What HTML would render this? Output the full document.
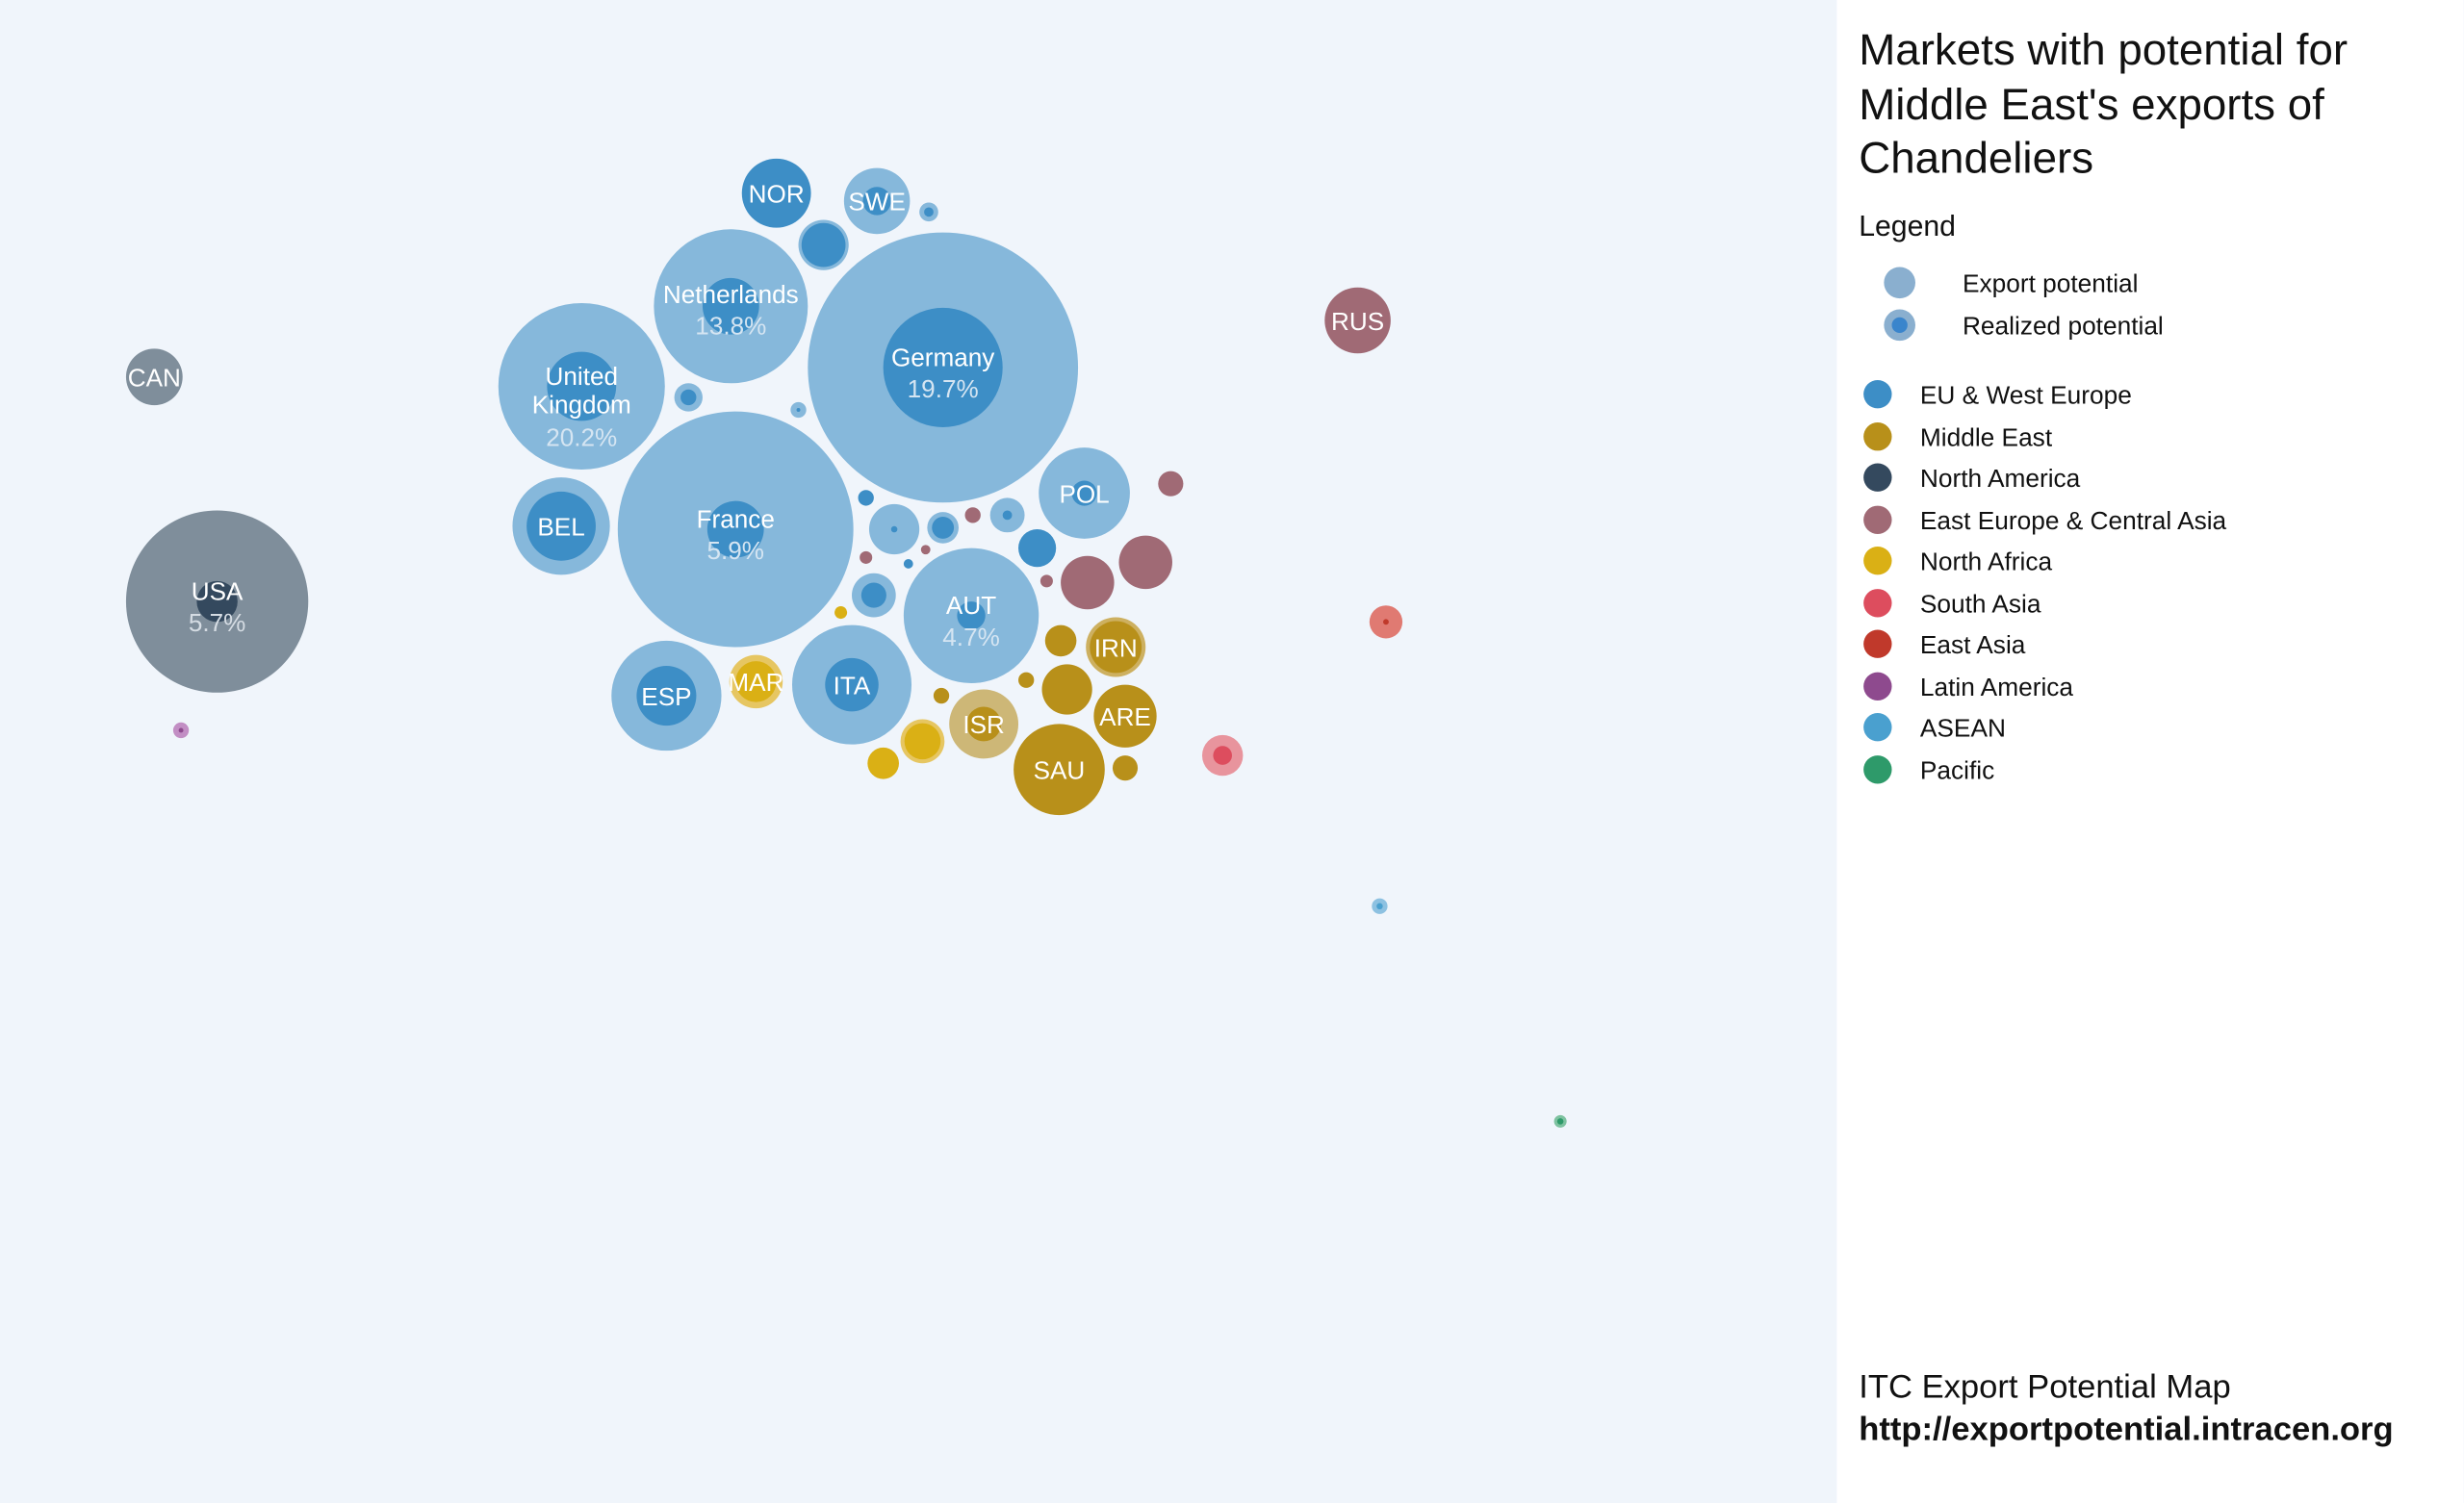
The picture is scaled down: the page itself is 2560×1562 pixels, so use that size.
<!DOCTYPE html>
<html><head><meta charset="utf-8"><style>
html,body{margin:0;padding:0;background:#f0f5fb}
svg{display:block}
text{font-family:"Liberation Sans",sans-serif}
</style></head><body>
<svg width="2560" height="1562" viewBox="0 0 1568 957" xmlns="http://www.w3.org/2000/svg">
<rect x="0" y="0" width="1568" height="957" fill="#f0f5fb"/>
<rect x="1169" y="0" width="399" height="957" fill="#ffffff"/>
<g>
<circle cx="494" cy="123" r="22" fill="#3d8ec6"/>
<circle cx="558" cy="128" r="21" fill="#86b8db"/><circle cx="558" cy="128" r="9" fill="#3d8ec6"/>
<circle cx="591" cy="135" r="6" fill="#86b8db"/><circle cx="591" cy="135" r="3" fill="#3d8ec6"/>
<circle cx="524" cy="156" r="16" fill="#86b8db"/><circle cx="524" cy="156" r="14" fill="#3d8ec6"/>
<circle cx="465" cy="195" r="49" fill="#86b8db"/><circle cx="465" cy="195" r="18" fill="#3d8ec6"/>
<circle cx="600" cy="234" r="86" fill="#86b8db"/><circle cx="600" cy="234" r="38" fill="#3d8ec6"/>
<circle cx="370" cy="246" r="53" fill="#86b8db"/><circle cx="370" cy="246" r="22" fill="#3d8ec6"/>
<circle cx="438" cy="253" r="9" fill="#86b8db"/><circle cx="438" cy="253" r="5" fill="#3d8ec6"/>
<circle cx="508" cy="261" r="5" fill="#86b8db"/><circle cx="508" cy="261" r="1.2" fill="#3d8ec6"/>
<circle cx="468" cy="337" r="75" fill="#86b8db"/><circle cx="468" cy="337" r="18" fill="#3d8ec6"/>
<circle cx="357" cy="335" r="31" fill="#86b8db"/><circle cx="357" cy="335" r="22" fill="#3d8ec6"/>
<circle cx="690" cy="314" r="29" fill="#86b8db"/><circle cx="690" cy="314" r="8" fill="#3d8ec6"/>
<circle cx="551" cy="317" r="5" fill="#3d8ec6"/>
<circle cx="569" cy="337" r="16" fill="#86b8db"/><circle cx="569" cy="337" r="2" fill="#3d8ec6"/>
<circle cx="600" cy="336" r="10" fill="#86b8db"/><circle cx="600" cy="336" r="7" fill="#3d8ec6"/>
<circle cx="641" cy="328" r="11" fill="#86b8db"/><circle cx="641" cy="328" r="3" fill="#3d8ec6"/>
<circle cx="660" cy="349" r="12" fill="#3d8ec6"/>
<circle cx="578" cy="359" r="3" fill="#3d8ec6"/>
<circle cx="556" cy="379" r="14" fill="#86b8db"/><circle cx="556" cy="379" r="8" fill="#3d8ec6"/>
<circle cx="618" cy="392" r="43" fill="#86b8db"/><circle cx="618" cy="392" r="9" fill="#3d8ec6"/>
<circle cx="542" cy="436" r="38" fill="#86b8db"/><circle cx="542" cy="436" r="17" fill="#3d8ec6"/>
<circle cx="424" cy="443" r="35" fill="#86b8db"/><circle cx="424" cy="443" r="19" fill="#3d8ec6"/>
<circle cx="864" cy="204" r="21" fill="#a06a75"/>
<circle cx="745" cy="308" r="8" fill="#a06a75"/>
<circle cx="729" cy="358" r="17" fill="#a06a75"/>
<circle cx="692" cy="371" r="17" fill="#a06a75"/>
<circle cx="666" cy="370" r="4" fill="#a06a75"/>
<circle cx="619" cy="328" r="5" fill="#a06a75"/>
<circle cx="551" cy="355" r="4" fill="#a06a75"/>
<circle cx="589" cy="350" r="3" fill="#a06a75"/>
<circle cx="710" cy="412" r="19" fill="#cdb060"/><circle cx="710" cy="412" r="16.5" fill="#b8901a"/>
<circle cx="675" cy="408" r="10" fill="#b8901a"/>
<circle cx="679" cy="439" r="16" fill="#b8901a"/>
<circle cx="653" cy="433" r="5" fill="#b8901a"/>
<circle cx="599" cy="443" r="5" fill="#b8901a"/>
<circle cx="716" cy="456" r="20" fill="#b8901a"/>
<circle cx="626" cy="461" r="22" fill="#cdb777"/><circle cx="626" cy="461" r="11" fill="#b8901a"/>
<circle cx="674" cy="490" r="29" fill="#b8901a"/>
<circle cx="716" cy="489" r="8" fill="#b8901a"/>
<circle cx="481" cy="434" r="17" fill="#e6c662"/><circle cx="481" cy="434" r="13" fill="#dab015"/>
<circle cx="587" cy="472" r="14" fill="#e6c662"/><circle cx="587" cy="472" r="11.5" fill="#dab015"/>
<circle cx="562" cy="486" r="10" fill="#dab015"/>
<circle cx="535" cy="390" r="4" fill="#dab015"/>
<circle cx="138" cy="383" r="58" fill="#7f8e9b"/><circle cx="138" cy="383" r="13" fill="#34495e"/>
<circle cx="98" cy="240" r="18" fill="#7f8e9b"/>
<circle cx="115" cy="465" r="5" fill="#c28ec4"/><circle cx="115" cy="465" r="1.5" fill="#8e4a8e"/>
<circle cx="778" cy="481" r="13" fill="#e8949d"/><circle cx="778" cy="481" r="6" fill="#dd4d5e"/>
<circle cx="882" cy="396" r="10.5" fill="#e07a72"/><circle cx="882" cy="396" r="1.8" fill="#c0392b"/>
<circle cx="878" cy="577" r="5" fill="#8dc1e1"/><circle cx="878" cy="577" r="2" fill="#4aa0cf"/>
<circle cx="993" cy="714" r="4" fill="#7ec2a0"/><circle cx="993" cy="714" r="2" fill="#2e9a6a"/>
</g>
<g fill="#ffffff" font-size="16" text-anchor="middle">
<text x="494" y="129">NOR</text>
<text x="558" y="134">SWE</text>
<text x="465" y="193">Netherlands</text>
<text x="465" y="213" fill="#d5e5f2">13.8%</text>
<text x="600" y="233">Germany</text>
<text x="600" y="253" fill="#d5e5f2">19.7%</text>
<text x="370" y="245">United</text>
<text x="370" y="263">Kingdom</text>
<text x="370" y="284" fill="#d5e5f2">20.2%</text>
<text x="468" y="336">France</text>
<text x="468" y="356" fill="#d5e5f2">5.9%</text>
<text x="357" y="341">BEL</text>
<text x="690" y="320">POL</text>
<text x="618" y="391">AUT</text>
<text x="618" y="411" fill="#d5e5f2">4.7%</text>
<text x="542" y="442">ITA</text>
<text x="424" y="449">ESP</text>
<text x="481" y="440">MAR</text>
<text x="710" y="418">IRN</text>
<text x="716" y="462">ARE</text>
<text x="626" y="467">ISR</text>
<text x="674" y="496">SAU</text>
<text x="864" y="210">RUS</text>
<text x="98" y="246">CAN</text>
<text x="138" y="382">USA</text>
<text x="138" y="402" fill="#d5dce3">5.7%</text>
</g>
<g fill="#111">
<text x="1183" y="41" font-size="28">Markets with potential for</text>
<text x="1183" y="76" font-size="28">Middle East's exports of</text>
<text x="1183" y="110" font-size="28">Chandeliers</text>
<text x="1183" y="150" font-size="18.5">Legend</text>
<circle cx="1209" cy="180" r="10" fill="#8aafcf"/>
<circle cx="1209" cy="207" r="10" fill="#8aafcf"/><circle cx="1209" cy="207" r="5" fill="#3a85cc"/>
<g font-size="16.1">
<text x="1249" y="186">Export potential</text>
<text x="1249" y="213">Realized potential</text>
<circle cx="1195" cy="251" r="9" fill="#3d8ec6"/><text x="1222" y="257">EU &amp; West Europe</text>
<circle cx="1195" cy="278" r="9" fill="#b8901a"/><text x="1222" y="284">Middle East</text>
<circle cx="1195" cy="304" r="9" fill="#34495e"/><text x="1222" y="310">North America</text>
<circle cx="1195" cy="331" r="9" fill="#a06a75"/><text x="1222" y="337">East Europe &amp; Central Asia</text>
<circle cx="1195" cy="357" r="9" fill="#dab015"/><text x="1222" y="363">North Africa</text>
<circle cx="1195" cy="384" r="9" fill="#dd4d5e"/><text x="1222" y="390">South Asia</text>
<circle cx="1195" cy="410" r="9" fill="#c0392b"/><text x="1222" y="416">East Asia</text>
<circle cx="1195" cy="437" r="9" fill="#8e4a8e"/><text x="1222" y="443">Latin America</text>
<circle cx="1195" cy="463" r="9" fill="#4aa0cf"/><text x="1222" y="469">ASEAN</text>
<circle cx="1195" cy="490" r="9" fill="#2e9a6a"/><text x="1222" y="496">Pacific</text>
</g>
<text x="1183" y="890" font-size="21.2">ITC Export Potential Map</text>
<text x="1183" y="917" font-size="21.2" font-weight="bold">http://exportpotential.intracen.org</text>
</g>
</svg>
</body></html>
